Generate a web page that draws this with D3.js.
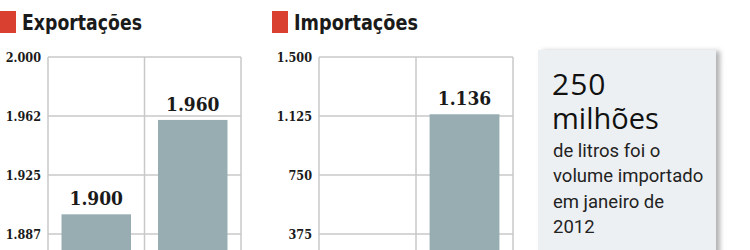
<!DOCTYPE html>
<html>
<head>
<meta charset="utf-8">
<script src="https://cdn.jsdelivr.net/npm/d3@7"></script>
<style>
  html, body { margin: 0; padding: 0; background: #fff; }
  svg { display: block; overflow: hidden; }
</style>
</head>
<body>
<svg id="chart" width="750" height="250"></svg>
<script>
// data
const categories = ['2011', '2012']
const exportValues = [1900, 1960]
const importValues = [80, 1136]
const exportTicks = [1887.5, 1925, 1962.5, 2000]
const exportTickLabels = ['1.887', '1.925', '1.962', '2.000']
const importTicks = [375, 750, 1125, 1500]
const importTickLabels = ['375', '750', '1.125', '1.500']
const noteLines = ['de litros foi o', 'volume importado', 'em janeiro de', '2012']

const svg = d3.select('#chart')
const fmt = v => d3.format(',')(v).replace(/,/g, '.')

const titleFont = '"DejaVu Sans Condensed", "DejaVu Sans", sans-serif'
const numFont = '"DejaVu Serif Condensed", "DejaVu Serif", serif'

function drawPanel(opts) {
  const g = svg.append('g')

  // title with red square
  g.append('rect')
    .attr('x', opts.titleX).attr('y', 11)
    .attr('width', 16).attr('height', 22)
    .attr('fill', '#d9402f')
  g.append('text')
    .attr('x', opts.titleX + 22).attr('y', 30)
    .attr('font-family', titleFont)
    .attr('font-weight', 'bold')
    .attr('font-size', 20.5)
    .attr('textLength', opts.titleWidth)
    .attr('lengthAdjust', 'spacingAndGlyphs')
    .attr('fill', '#1a1a1a')
    .text(opts.title)

  const x = d3.scaleBand()
    .domain(categories)
    .range([opts.left, opts.right])
    .paddingInner(0.28)
    .paddingOuter(0.14)
  const y = d3.scaleLinear()
    .domain(opts.domain)
    .range([opts.bottom, 57])

  // grid
  const grid = g.append('g').attr('stroke', '#c8c8c8').attr('stroke-width', 1.5)
  grid.selectAll('line.h').data(opts.ticks).join('line')
    .attr('class', 'h')
    .attr('x1', opts.left).attr('x2', opts.right)
    .attr('y1', d => y(d)).attr('y2', d => y(d))
  const vlines = [opts.left, (opts.left + opts.right) / 2, opts.right]
  grid.selectAll('line.v').data(vlines).join('line')
    .attr('class', 'v')
    .attr('x1', d => d).attr('x2', d => d)
    .attr('y1', y(opts.domain[1])).attr('y2', opts.bottom)

  // y axis labels
  const axis = d3.axisLeft(y)
    .tickValues(opts.ticks)
    .tickFormat((d, i) => opts.tickLabels[i])
    .tickSize(0)
    .tickPadding(7)
  const ax = g.append('g')
    .attr('transform', `translate(${opts.left},0)`)
    .call(axis)
  ax.select('.domain').remove()
  ax.selectAll('text')
    .attr('font-family', numFont)
    .attr('font-weight', 'bold')
    .attr('font-size', 12.5)
    .attr('fill', '#1a1a1a')

  // bars
  g.selectAll('rect.bar').data(opts.values).join('rect')
    .attr('class', 'bar')
    .attr('x', (d, i) => x(categories[i]))
    .attr('width', x.bandwidth())
    .attr('y', d => y(d))
    .attr('height', d => opts.bottom - y(d))
    .attr('fill', '#97adb1')

  g.selectAll('text.val').data(opts.values).join('text')
    .attr('class', 'val')
    .attr('x', (d, i) => x(categories[i]) + x.bandwidth() / 2)
    .attr('y', d => y(d) - 9)
    .attr('text-anchor', 'middle')
    .attr('font-family', numFont)
    .attr('font-weight', 'bold')
    .attr('font-size', 19)
    .attr('fill', '#1a1a1a')
    .text(d => fmt(d))
}

drawPanel({
  title: 'Exportações', titleX: 0, titleWidth: 120,
  left: 48, right: 241, bottom: 293,
  domain: [1850, 2000], ticks: exportTicks, tickLabels: exportTickLabels,
  values: exportValues
})

drawPanel({
  title: 'Importações', titleX: 272, titleWidth: 124,
  left: 319, right: 513, bottom: 293,
  domain: [0, 1500], ticks: importTicks, tickLabels: importTickLabels,
  values: importValues
})

// note box
const defs = svg.append('defs')
defs.append('filter').attr('id', 'shadow')
  .attr('x', '-10%').attr('y', '-10%').attr('width', '130%').attr('height', '130%')
  .append('feDropShadow')
  .attr('dx', 4).attr('dy', 1).attr('stdDeviation', 2.5)
  .attr('flood-color', '#000').attr('flood-opacity', 0.3)

const note = svg.append('g')
note.append('rect')
  .attr('x', 538).attr('y', 50)
  .attr('width', 178).attr('height', 230)
  .attr('fill', '#edf0f2')
  .attr('filter', 'url(#shadow)')

const noteFont = '"Open Sans", "Noto Sans", sans-serif'
note.append('text')
  .attr('x', 552).attr('y', 95)
  .attr('font-family', noteFont)
  .attr('font-size', 30)
  .attr('letter-spacing', 1)
  .attr('fill', '#111')
  .text('250')
note.append('text')
  .attr('x', 552).attr('y', 129)
  .attr('font-family', noteFont)
  .attr('font-size', 29)
  .attr('fill', '#111')
  .text('milhões')
note.selectAll('text.line').data(noteLines).join('text')
  .attr('class', 'line')
  .attr('x', 553)
  .attr('y', (d, i) => 157 + i * 25.3)
  .attr('font-family', '"Roboto", "Open Sans", sans-serif')
  .attr('font-size', 18.5)
  .attr('fill', '#222')
  .text(d => d)
</script>
</body>
</html>
